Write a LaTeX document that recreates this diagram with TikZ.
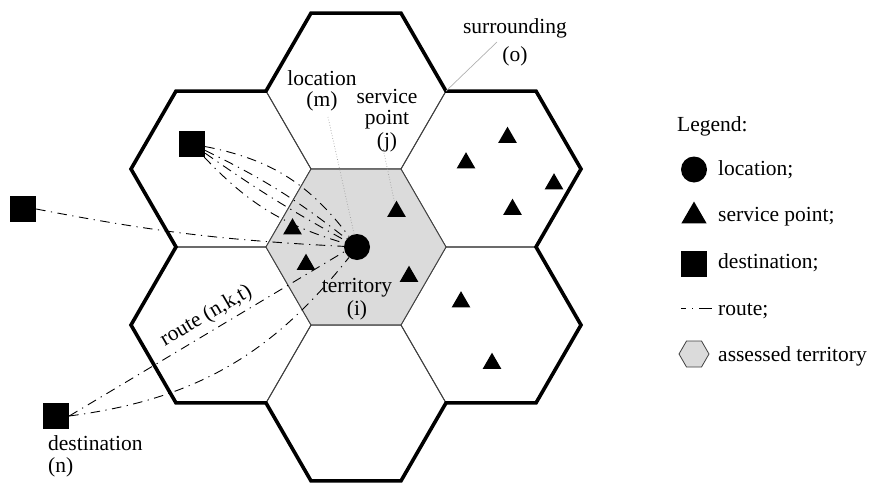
\documentclass[tikz,border=0pt]{standalone}
\usepackage{fontspec}
\setmainfont{Liberation Serif}
\usetikzlibrary{shapes.geometric}
\definecolor{terr}{gray}{0.86}
\definecolor{edgegray}{gray}{0.25}
\definecolor{leadgray}{gray}{0.62}
\begin{document}
\begin{tikzpicture}[x=1pt,y=-1pt,
  thinedge/.style={draw=edgegray, line width=0.9pt},
  outerline/.style={draw=black, line width=3.6pt, line join=miter},
  route/.style={line width=0.9pt, dash pattern=on 9.5pt off 5.5pt on 1.2pt off 5.5pt},
  sp/.style={regular polygon, regular polygon sides=3, fill=black, inner sep=0pt, minimum size=21.6pt},
  spbig/.style={regular polygon, regular polygon sides=3, fill=black, inner sep=0pt, minimum size=29pt},
  dest/.style={rectangle, fill=black, inner sep=0pt, minimum size=26pt},
  locdot/.style={circle, fill=black, inner sep=0pt, minimum size=26pt},
  lbl/.style={inner sep=0pt, font=\fontsize{21.5}{22}\selectfont},
  leader/.style={draw=leadgray, line width=0.7pt, dotted},
  leadsolid/.style={draw=leadgray!80, line width=0.7pt}
]
\useasboundingbox (0,0) rectangle (870,482);

% surrounding hexagons (thin edges)
\foreach \cx/\cy in {356/91, 221/169, 491/169, 221/325, 491/325, 356/403}
  \draw[thinedge] (\cx-90,\cy) -- (\cx-45,\cy-77.94) -- (\cx+45,\cy-77.94) -- (\cx+90,\cy)
     -- (\cx+45,\cy+77.94) -- (\cx-45,\cy+77.94) -- cycle;
% assessed territory
\filldraw[fill=terr, thinedge] (266,247) -- (311,169.06) -- (401,169.06) -- (446,247)
     -- (401,324.94) -- (311,324.94) -- cycle;
% outer boundary
\draw[outerline] (266,91.06) -- (311,13.12) -- (401,13.12) -- (446,91.06) -- (536,91.06)
  -- (581,169) -- (536,246.94) -- (581,325) -- (536,402.94) -- (446,402.94) -- (401,480.88)
  -- (311,480.88) -- (266,402.94) -- (176,402.94) -- (131,325) -- (176,246.94) -- (131,169)
  -- (176,91.06) -- cycle;

% labels
\node[lbl, anchor=base] (lblloc) at (322,85) {location};
\node[lbl, anchor=base] (lblm) at (322,106) {(m)};
\node[lbl, anchor=base] (lblsvc) at (387,103) {service};
\node[lbl, anchor=base] (lblpt) at (387,124) {point};
\node[lbl, anchor=base] (lblj) at (387,147) {(j)};
\node[lbl, anchor=base] (lblsur) at (515,33) {surrounding};
\node[lbl, anchor=base] (lblo) at (515,61) {(o)};
\node[lbl, anchor=base] (lblter) at (357,292) {territory};
\node[lbl, anchor=base] (lbli) at (357,315) {(i)};
\node[lbl, anchor=base west] (lbldest) at (48,450) {destination};
\node[lbl, anchor=base west] (lbln) at (48,472) {(n)};

% symbols
\node[locdot] (loc) at (357,247) {};
\node[sp] (t1) at (292.5,229) {};
\node[sp] (t2) at (306,264.5) {};
\node[sp] (t3) at (396.5,211.5) {};
\node[sp] (t4) at (409,276.5) {};
\node[sp] (t5) at (507.5,137.5) {};
\node[sp] (t6) at (466,163) {};
\node[sp] (t7) at (554,184) {};
\node[sp] (t8) at (512.5,209.5) {};
\node[sp] (t9) at (461,302) {};
\node[sp] (t10) at (492,363.5) {};
\node[dest] (sqNW) at (192,144) {};
\node[dest] (sqW) at (23,209) {};
\node[dest] (sqSW) at (56,416) {};

% leaders
\coordinate (mfoot) at (328,117);
\coordinate (jfoot) at (384,153);
\coordinate (ofoot) at (497,42);
\coordinate (overtex) at (446,91.06);
\draw[leader] (mfoot) -- (loc);
\draw[leader] (jfoot) -- (t3);
\draw[leadsolid] (ofoot) -- (overtex);

% routes
\draw[route] (sqNW) to[bend left=21] (loc);
\draw[route] (sqNW) to[bend left=6] (loc);
\draw[route] (sqNW) to[bend right=3] (loc);
\draw[route] (sqNW) to[bend right=15] (loc);
\draw[route] (sqW.east) to[bend right=4] (loc);
\draw[route] (sqSW.east) -- (loc.200);
\draw[route] (sqSW.east) to[bend right=22] (loc);
\node[lbl, rotate=30.3, anchor=base] (lblroute) at (209,320.5) {route (n,k,t)};

% legend
\node[lbl, anchor=base west] (legtitle) at (677,131) {Legend:};
\node[locdot] (legloc) at (694,169.5) {};
\node[lbl, anchor=base west] (leglocT) at (718,175) {location;};
\node[spbig] (legsp) at (694,216) {};
\node[lbl, anchor=base west] (legspT) at (718,221) {service point;};
\node[dest] (legdest) at (694,263.5) {};
\node[lbl, anchor=base west] (legdestT) at (718,268) {destination;};
\coordinate (lr1) at (681,308);
\coordinate (lr2) at (712,308);
\draw[line width=0.9pt, dash pattern=on 5pt off 6pt on 1.2pt off 6pt on 13pt off 20pt] (lr1) -- (lr2);
\node[lbl, anchor=base west] (legrouteT) at (718,315) {route;};
\filldraw[fill=terr, draw=edgegray, line width=0.8pt] (679,354) -- (686.5,341) -- (701.5,341) -- (709,354)
   -- (701.5,367) -- (686.5,367) -- cycle;
\coordinate (leghex) at (694,354);
\node[lbl, anchor=base west] (leghexT) at (718,361) {assessed territory};
\end{tikzpicture}
\end{document}
